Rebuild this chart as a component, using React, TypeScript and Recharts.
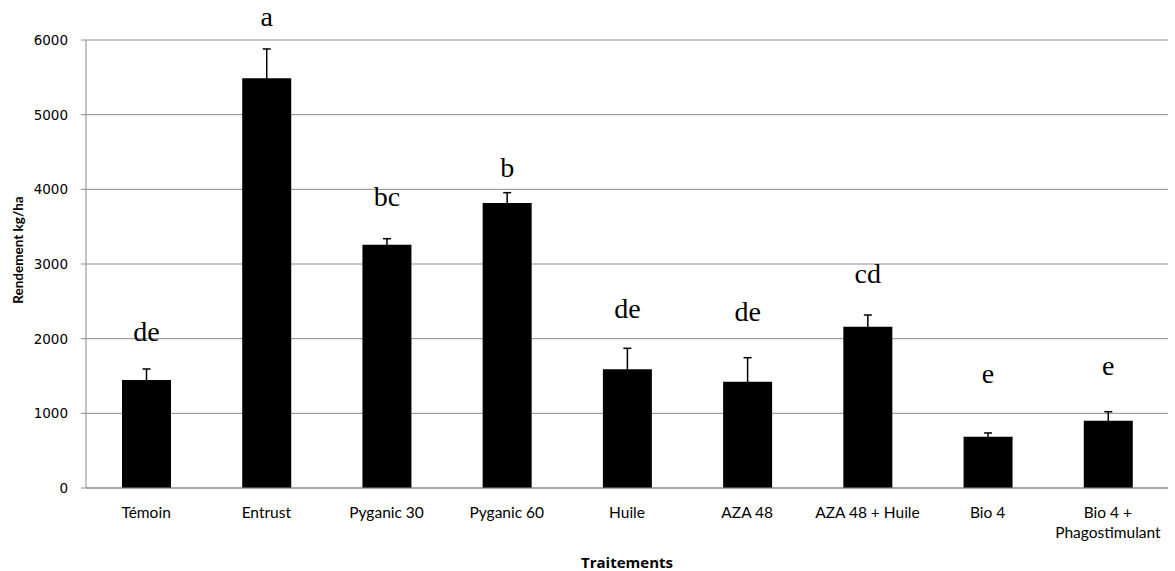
import React from 'react';
import { ComposedChart, Bar, XAxis, YAxis, CartesianGrid, ErrorBar, LabelList, Label } from 'recharts';

const categories = ['Témoin', 'Entrust', 'Pyganic 30', 'Pyganic 60', 'Huile', 'AZA 48', 'AZA 48 + Huile', 'Bio 4', 'Bio 4 +\nPhagostimulant'];
const yields = [1446, 5487, 3259, 3817, 1589, 1424, 2160, 687, 901];
const errors = [148, 393, 80, 138, 282, 321, 157, 50, 121];
const letters = ['de', 'a', 'bc', 'b', 'de', 'de', 'cd', 'e', 'e'];
const letterLevels = [2093, 6312, 3901, 4299, 2407, 2370, 2879, 1540, 1647];
const yTicks = [0, 1000, 2000, 3000, 4000, 5000, 6000];
const boundaryTicks = [0, 1, 2, 3, 4, 5, 6, 7, 8, 9];

const data = categories.map((c, i) => ({
  name: c,
  value: yields[i],
  err: errors[i],
  letter: letters[i],
  letterLevel: letterLevels[i],
}));

const SANS = 'Lato, "Open Sans", sans-serif';

const CatTick = (props: any) => {
  const { x, y, payload } = props;
  const lines = String(payload.value).split('\n');
  return (
    <g>
      {lines.map((l: string, i: number) => (
        <text key={i} x={x} y={y + i * 20} textAnchor="middle" dominantBaseline="central" fontFamily={SANS} fontSize={15.5} fill="#000">
          {l}
        </text>
      ))}
    </g>
  );
};

const ValTick = (props: any) => {
  const { x, y, payload } = props;
  return (
    <text x={x} y={y} textAnchor="end" dominantBaseline="central" fontFamily="DejaVu Sans, sans-serif" fontSize={13.5} fill="#000">
      {payload.value}
    </text>
  );
};

const LetterLabel = (props: any) => {
  const { x, y, width, height, value, index } = props;
  const base = y + height;
  const perUnit = height / yields[index];
  const cy = base - value * perUnit;
  return (
    <text x={x + width / 2} y={cy} textAnchor="middle" dominantBaseline="central" fontFamily="Liberation Serif, Times New Roman, serif" fontSize={28} fill="#000">
      {letters[index]}
    </text>
  );
};

const YTitle = (props: any) => {
  const { viewBox } = props;
  const cx = 18;
  const cy = viewBox.y + viewBox.height / 2 - 14;
  return (
    <text x={cx} y={cy} transform={`rotate(-90 ${cx} ${cy})`} textAnchor="middle" dominantBaseline="central" fontFamily="Lato, sans-serif" fontSize={13.5} fontWeight={700} fill="#000">
      Rendement kg/ha
    </text>
  );
};

export default function App() {
  return (
    <div style={{ position: 'absolute', left: 0, top: 0, width: 1175, height: 571, background: '#fff' }}>
      <ComposedChart width={1175} height={571} data={data} margin={{ top: 40, right: 7, bottom: 0, left: 0 }}>
        <CartesianGrid vertical={false} stroke="#8c8c8c" strokeWidth={1} />
        <XAxis
          dataKey="name"
          xAxisId="cat"
          tickLine={false}
          axisLine={{ stroke: '#8c8c8c' }}
          tick={<CatTick />}
          tickSize={0}
          tickMargin={24}
          interval={0}
          height={83}
        >
          <Label value="Traitements" position="insideBottom" offset={3} style={{ fontFamily: 'Open Sans, sans-serif', fontSize: 15, fontWeight: 700, fill: '#000' }} />
        </XAxis>
        <XAxis
          xAxisId="bnd"
          type="number"
          domain={[0, 9]}
          ticks={boundaryTicks}
          tick={false}
          axisLine={false}
          tickLine={{ stroke: '#8c8c8c' }}
          tickSize={5}
          height={0}
        />
        <YAxis
          domain={[0, 6000]}
          ticks={yTicks}
          width={86}
          axisLine={{ stroke: '#8c8c8c' }}
          tickLine={{ stroke: '#8c8c8c' }}
          tickSize={5}
          tickMargin={13}
          tick={<ValTick />}
        >
          <Label content={<YTitle />} />
        </YAxis>
        <Bar dataKey="value" xAxisId="cat" fill="#000" barSize={49} isAnimationActive={false}>
          <ErrorBar dataKey="err" width={4} stroke="#000" strokeWidth={1.5} direction="y" />
          <LabelList dataKey="letterLevel" content={<LetterLabel />} />
        </Bar>
      </ComposedChart>
    </div>
  );
}
